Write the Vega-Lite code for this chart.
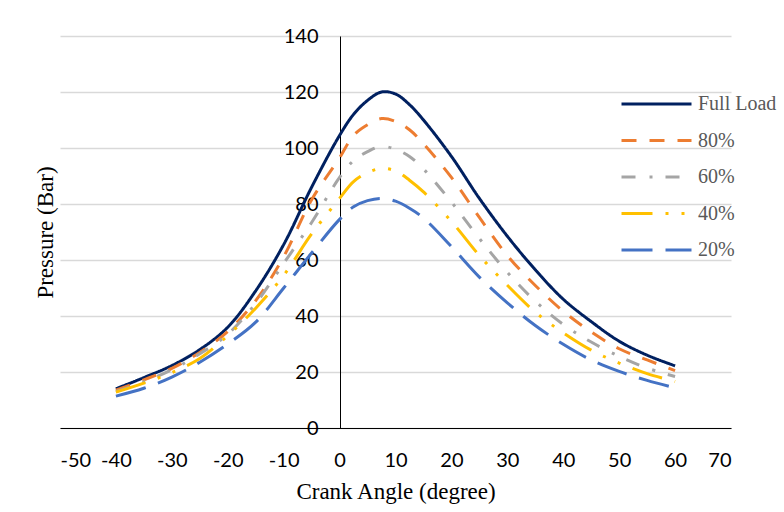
{
  "$schema": "https://vega.github.io/schema/vega-lite/v6.json",
  "autosize": {"type": "none"},
  "width": 671,
  "height": 392,
  "padding": {"left": 60, "top": 36, "right": 53, "bottom": 84},
  "background": "white",
  "config": {"view": {"stroke": null}},
  "data": {"values": [
    {"angle": -40, "p": 14, "load": "Full Load"},
    {"angle": -35, "p": 18, "load": "Full Load"},
    {"angle": -30, "p": 22.3, "load": "Full Load"},
    {"angle": -25, "p": 28, "load": "Full Load"},
    {"angle": -20, "p": 36, "load": "Full Load"},
    {"angle": -15, "p": 49, "load": "Full Load"},
    {"angle": -10, "p": 65.5, "load": "Full Load"},
    {"angle": -5, "p": 86, "load": "Full Load"},
    {"angle": 0, "p": 104.5, "load": "Full Load"},
    {"angle": 2.5, "p": 112, "load": "Full Load"},
    {"angle": 5, "p": 117, "load": "Full Load"},
    {"angle": 7.5, "p": 120, "load": "Full Load"},
    {"angle": 10, "p": 119.3, "load": "Full Load"},
    {"angle": 12.5, "p": 115.5, "load": "Full Load"},
    {"angle": 15, "p": 110, "load": "Full Load"},
    {"angle": 20, "p": 97, "load": "Full Load"},
    {"angle": 25, "p": 82, "load": "Full Load"},
    {"angle": 30, "p": 68.5, "load": "Full Load"},
    {"angle": 35, "p": 56.5, "load": "Full Load"},
    {"angle": 40, "p": 46, "load": "Full Load"},
    {"angle": 45, "p": 38, "load": "Full Load"},
    {"angle": 50, "p": 31, "load": "Full Load"},
    {"angle": 55, "p": 26, "load": "Full Load"},
    {"angle": 60, "p": 22.2, "load": "Full Load"},

    {"angle": -40, "p": 13.5, "load": "80%"},
    {"angle": -35, "p": 17.2, "load": "80%"},
    {"angle": -30, "p": 21.3, "load": "80%"},
    {"angle": -25, "p": 27, "load": "80%"},
    {"angle": -20, "p": 34.5, "load": "80%"},
    {"angle": -15, "p": 45.5, "load": "80%"},
    {"angle": -10, "p": 61.2, "load": "80%"},
    {"angle": -5, "p": 81.5, "load": "80%"},
    {"angle": 0, "p": 96.5, "load": "80%"},
    {"angle": 2.5, "p": 104.5, "load": "80%"},
    {"angle": 5, "p": 108.3, "load": "80%"},
    {"angle": 7.5, "p": 110.5, "load": "80%"},
    {"angle": 10, "p": 109.5, "load": "80%"},
    {"angle": 12.5, "p": 106.5, "load": "80%"},
    {"angle": 15, "p": 101.5, "load": "80%"},
    {"angle": 20, "p": 89.5, "load": "80%"},
    {"angle": 25, "p": 75.2, "load": "80%"},
    {"angle": 30, "p": 61.6, "load": "80%"},
    {"angle": 35, "p": 50.9, "load": "80%"},
    {"angle": 40, "p": 41.7, "load": "80%"},
    {"angle": 45, "p": 34.3, "load": "80%"},
    {"angle": 50, "p": 28.3, "load": "80%"},
    {"angle": 55, "p": 24.3, "load": "80%"},
    {"angle": 60, "p": 20.5, "load": "80%"},

    {"angle": -40, "p": 13, "load": "60%"},
    {"angle": -35, "p": 16.5, "load": "60%"},
    {"angle": -30, "p": 20.8, "load": "60%"},
    {"angle": -25, "p": 26.5, "load": "60%"},
    {"angle": -20, "p": 33.5, "load": "60%"},
    {"angle": -15, "p": 44.5, "load": "60%"},
    {"angle": -10, "p": 58.8, "load": "60%"},
    {"angle": -5, "p": 73.4, "load": "60%"},
    {"angle": 0, "p": 89.5, "load": "60%"},
    {"angle": 2.5, "p": 95.5, "load": "60%"},
    {"angle": 5, "p": 98.7, "load": "60%"},
    {"angle": 7.5, "p": 100.6, "load": "60%"},
    {"angle": 10, "p": 99.5, "load": "60%"},
    {"angle": 12.5, "p": 97, "load": "60%"},
    {"angle": 15, "p": 92.5, "load": "60%"},
    {"angle": 20, "p": 80.7, "load": "60%"},
    {"angle": 25, "p": 67.7, "load": "60%"},
    {"angle": 30, "p": 55.6, "load": "60%"},
    {"angle": 35, "p": 45.3, "load": "60%"},
    {"angle": 40, "p": 37, "load": "60%"},
    {"angle": 45, "p": 30.7, "load": "60%"},
    {"angle": 50, "p": 25.6, "load": "60%"},
    {"angle": 55, "p": 21.4, "load": "60%"},
    {"angle": 60, "p": 18.4, "load": "60%"},

    {"angle": -40, "p": 12.8, "load": "40%"},
    {"angle": -35, "p": 16, "load": "40%"},
    {"angle": -30, "p": 19.8, "load": "40%"},
    {"angle": -25, "p": 24.8, "load": "40%"},
    {"angle": -20, "p": 33, "load": "40%"},
    {"angle": -15, "p": 42.8, "load": "40%"},
    {"angle": -10, "p": 54.5, "load": "40%"},
    {"angle": -5, "p": 69.3, "load": "40%"},
    {"angle": 0, "p": 82, "load": "40%"},
    {"angle": 2.5, "p": 88, "load": "40%"},
    {"angle": 5, "p": 91.2, "load": "40%"},
    {"angle": 7.5, "p": 92.7, "load": "40%"},
    {"angle": 10, "p": 91.8, "load": "40%"},
    {"angle": 12.5, "p": 88.5, "load": "40%"},
    {"angle": 15, "p": 84.3, "load": "40%"},
    {"angle": 20, "p": 73.8, "load": "40%"},
    {"angle": 25, "p": 61.6, "load": "40%"},
    {"angle": 30, "p": 51, "load": "40%"},
    {"angle": 35, "p": 41.4, "load": "40%"},
    {"angle": 40, "p": 34, "load": "40%"},
    {"angle": 45, "p": 27.8, "load": "40%"},
    {"angle": 50, "p": 23.2, "load": "40%"},
    {"angle": 55, "p": 19.4, "load": "40%"},
    {"angle": 60, "p": 16.6, "load": "40%"},

    {"angle": -40, "p": 11.4, "load": "20%"},
    {"angle": -35, "p": 14.2, "load": "20%"},
    {"angle": -30, "p": 18.2, "load": "20%"},
    {"angle": -25, "p": 23.5, "load": "20%"},
    {"angle": -20, "p": 30, "load": "20%"},
    {"angle": -15, "p": 37.8, "load": "20%"},
    {"angle": -10, "p": 50, "load": "20%"},
    {"angle": -5, "p": 62.5, "load": "20%"},
    {"angle": 0, "p": 74.5, "load": "20%"},
    {"angle": 2.5, "p": 79, "load": "20%"},
    {"angle": 5, "p": 81.2, "load": "20%"},
    {"angle": 7.5, "p": 82, "load": "20%"},
    {"angle": 10, "p": 81, "load": "20%"},
    {"angle": 12.5, "p": 78.5, "load": "20%"},
    {"angle": 15, "p": 75, "load": "20%"},
    {"angle": 20, "p": 64.8, "load": "20%"},
    {"angle": 25, "p": 53.9, "load": "20%"},
    {"angle": 30, "p": 44.7, "load": "20%"},
    {"angle": 35, "p": 36.6, "load": "20%"},
    {"angle": 40, "p": 29.9, "load": "20%"},
    {"angle": 45, "p": 24.3, "load": "20%"},
    {"angle": 50, "p": 20.2, "load": "20%"},
    {"angle": 55, "p": 17, "load": "20%"},
    {"angle": 60, "p": 14.3, "load": "20%"}
  ]},
  "mark": {"type": "line", "interpolate": "catmull-rom", "strokeWidth": 3},
  "encoding": {
    "x": {
      "field": "angle", "type": "quantitative",
      "scale": {"domain": [-50, 70], "nice": false, "zero": false},
      "axis": {
        "values": [-50, -40, -30, -20, -10, 0, 10, 20, 30, 40, 50, 60, 70],
        "labelExpr": "datum.value + ''",
        "grid": false, "ticks": false,
        "domainColor": "#000000", "domainWidth": 1,
        "labelFont": "Lato", "labelFontSize": 20, "labelColor": "#000000",
        "labelPadding": 22,
        "title": "Crank Angle (degree)",
        "titleFont": "Liberation Serif", "titleFontSize": 23, "titleFontWeight": "normal",
        "titleColor": "#000000", "titlePadding": 10
      }
    },
    "y": {
      "field": "p", "type": "quantitative",
      "scale": {"domain": [0, 140], "nice": false},
      "axis": {
        "values": [0, 20, 40, 60, 80, 100, 120, 140],
        "offset": -280,
        "grid": true, "gridColor": "#D9D9D9", "gridWidth": 1.5,
        "ticks": false,
        "domainColor": "#000000", "domainWidth": 1,
        "labelFont": "Lato", "labelFontSize": 20, "labelColor": "#000000",
        "labelPadding": 22,
        "title": "Pressure (Bar)",
        "titleFont": "Liberation Serif", "titleFontSize": 23, "titleFontWeight": "normal",
        "titleColor": "#000000",
        "titleX": -295, "titleY": 196, "titleAngle": -90, "titleBaseline": "middle", "titleAlign": "center"
      }
    },
    "color": {
      "field": "load", "type": "nominal",
      "scale": {
        "domain": ["Full Load", "80%", "60%", "40%", "20%"],
        "range": ["#002060", "#ED7D31", "#A5A5A5", "#FFC000", "#4472C4"]
      },
      "legend": {
        "orient": "none", "legendX": 560, "legendY": 58,
        "title": null, "symbolType": "stroke", "symbolSize": 4900,
        "symbolStrokeWidth": 3, "clipHeight": 20, "rowPadding": 16.5,
        "labelOffset": 5, "padding": 0,
        "labelFont": "Liberation Serif", "labelFontSize": 20, "labelColor": "#595959"
      }
    },
    "strokeDash": {
      "field": "load", "type": "nominal",
      "scale": {
        "domain": ["Full Load", "80%", "60%", "40%", "20%"],
        "range": [[1, 0], [15, 13], [14, 14, 3, 13], [31, 13, 3, 13, 3, 13], [31, 13]]
      },
      "legend": {
        "orient": "none", "legendX": 560, "legendY": 58,
        "title": null, "symbolType": "stroke", "symbolSize": 4900,
        "symbolStrokeWidth": 3, "clipHeight": 20, "rowPadding": 16.5,
        "labelOffset": 5, "padding": 0,
        "labelFont": "Liberation Serif", "labelFontSize": 20, "labelColor": "#595959"
      }
    }
  }
}
